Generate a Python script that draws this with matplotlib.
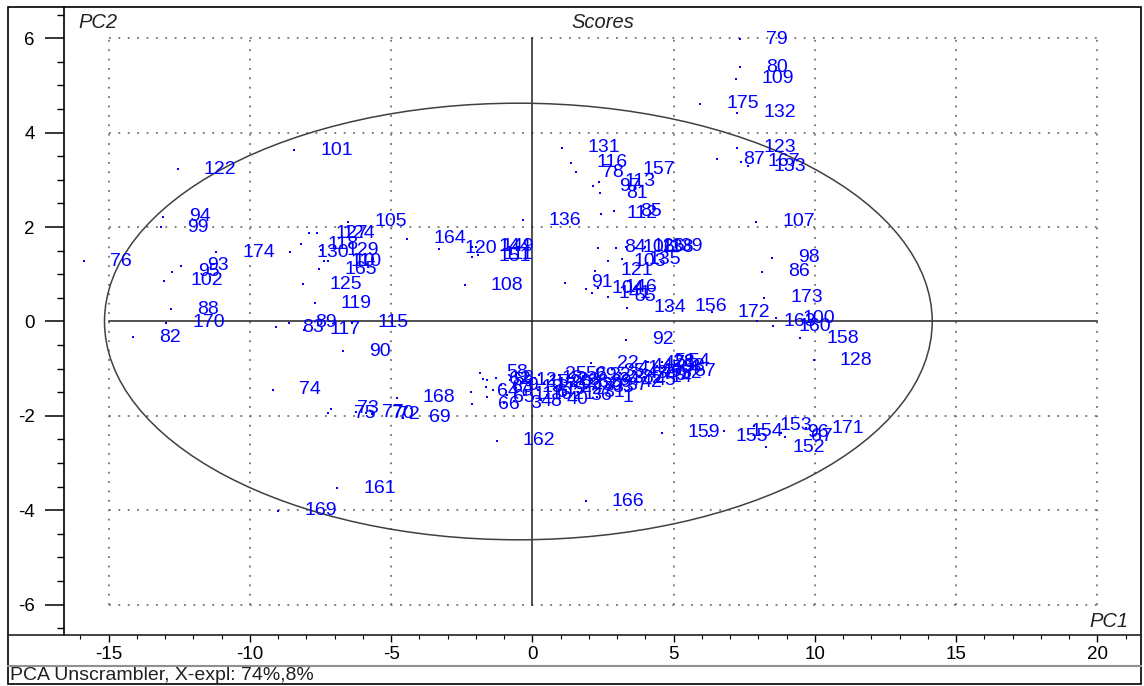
import matplotlib.pyplot as plt
from matplotlib.patches import Ellipse, Rectangle
from matplotlib.lines import Line2D
from matplotlib.ticker import MultipleLocator

plt.rcParams['font.family'] = ['Liberation Sans', 'DejaVu Sans']
plt.rcParams['axes.unicode_minus'] = False

# ---- PCA scores (PC1, PC2) per sample ----
samples = [
    79, 80, 109, 175, 132, 123, 87, 167, 133,
    131, 116, 78, 157, 97, 113, 81, 112, 85, 136,
    84, 106, 126, 138, 139, 103, 135, 121, 91, 104, 141, 146, 55, 134, 156,
    101, 122, 94, 99, 76, 174, 93, 95, 102, 88, 170, 82,
    105, 127, 124, 118, 130, 129, 110, 10, 165, 125, 119, 89, 83, 117, 115, 90,
    164, 120, 144, 149, 151, 111, 108,
    74, 73, 75, 77, 70, 72, 168, 69, 161, 169, 162, 166,
    107, 98, 86, 173, 172, 163, 100, 160, 158, 128,
    159, 155, 154, 153, 152, 96, 67, 171,
    58, 64, 66, 62, 63, 65, 3, 48, 40, 6, 36, 1, 25, 56, 39, 22, 2, 14, 4, 28, 92,
    5, 7, 8, 9, 11, 12, 13, 15, 16, 17, 18, 19, 20, 21, 23, 24, 26, 27, 29, 30, 31,
    32, 33, 34, 35, 37, 38, 41, 42, 43, 44, 45, 46, 47, 49, 50, 51, 52, 53, 54, 57,
]
pc1 = [
    7.36, 7.36, 7.19, 5.93, 7.24, 7.25, 6.53, 7.39, 7.62,
    1.04, 1.36, 1.54, 2.96, 2.14, 2.35, 2.39, 2.42, 2.88, -0.34,
    2.32, 2.96, 3.31, 3.66, 3.98, 2.67, 3.17, 2.21, 1.15, 1.89, 2.11, 2.32, 2.67, 3.35, 4.80,
    -8.44, -12.55, -13.08, -13.15, -15.88, -11.20, -12.44, -12.76, -13.04, -12.80, -12.97, -14.14,
    -6.53, -7.91, -7.63, -8.19, -8.58, -7.49, -7.38, -7.24, -7.56, -8.12, -7.70, -8.62, -9.08, -8.09, -6.39, -6.71,
    -4.44, -3.31, -2.14, -2.00, -2.14, -1.93, -2.39,
    -9.19, -7.13, -7.24, -6.25, -5.89, -5.68, -4.80, -4.58, -6.92, -9.00, -1.26, 1.89,
    7.92, 8.48, 8.13, 8.20, 6.35, 7.95, 8.62, 8.51, 9.47, 9.96,
    4.58, 6.25, 6.78, 7.84, 8.27, 8.81, 8.95, 9.68,
    -1.86, -2.18, -2.14, -1.75, -1.65, -1.61, -1.01, -0.65, 0.30, -0.05, 1.12, 2.28, 0.23, 0.94, 1.82, 2.07, 3.31, 3.95, 4.58, 4.05, 3.31,
    -1.60, -1.40, -1.30, -1.10, -0.90, -0.80, -0.60, -0.40, -0.30, -0.10, 0.10, 0.20, 0.40, 0.50, 0.70, 0.80, 1.00, 1.20, 1.30, 1.50, 1.60,
    1.80, 1.90, 2.10, 2.30, 2.40, 2.60, 2.80, 2.90, 3.10, 3.30, 3.40, 3.60, 3.70, 3.80, 4.00, 4.10, 4.30, 4.40, 4.60, 4.80,
]
pc2 = [
    5.98, 5.39, 5.14, 4.61, 4.42, 3.68, 3.44, 3.38, 3.29,
    3.68, 3.36, 3.16, 3.21, 2.87, 2.96, 2.72, 2.28, 2.34, 2.15,
    1.56, 1.56, 1.58, 1.56, 1.58, 1.28, 1.32, 1.07, 0.82, 0.69, 0.60, 0.71, 0.52, 0.29, 0.31,
    3.63, 3.23, 2.22, 2.00, 1.28, 1.47, 1.18, 1.05, 0.86, 0.26, -0.03, -0.33,
    2.11, 1.87, 1.87, 1.64, 1.47, 1.51, 1.28, 1.28, 1.11, 0.79, 0.39, -0.03, -0.12, -0.18, -0.03, -0.63,
    1.75, 1.54, 1.58, 1.58, 1.37, 1.41, 0.77,
    -1.45, -1.85, -1.94, -1.92, -1.94, -1.96, -1.62, -2.04, -3.53, -4.01, -2.53, -3.81,
    2.11, 1.35, 1.05, 0.50, 0.20, 0.01, 0.07, -0.10, -0.35, -0.82,
    -2.36, -2.43, -2.32, -2.21, -2.66, -2.36, -2.44, -2.26,
    -1.09, -1.49, -1.75, -1.22, -1.39, -1.60, -1.73, -1.69, -1.66, -1.51, -1.56, -1.60, -1.13, -1.13, -1.30, -0.88, -1.20, -1.18, -0.99, -0.86, -0.39,
    -1.25, -1.45, -1.20, -1.35, -1.55, -1.25, -1.40, -1.30, -1.55, -1.35, -1.20, -1.45, -1.30, -1.55, -1.25, -1.40, -1.30, -1.45, -1.15, -1.35, -1.50,
    -1.15, -1.40, -1.25, -1.05, -1.35, -1.20, -1.00, -1.30, -1.10, -0.95, -1.25, -1.05, -0.90, -1.15, -1.00, -0.85, -1.10, -0.95, -0.85, -1.05,
]

# Hotelling T2 ellipse
ell_center = (-0.5, 0.0)
ell_width = 29.3
ell_height = 9.25

W, H = 1144, 686
fig = plt.figure(figsize=(W / 100, H / 100), dpi=100, facecolor='white')
ax = fig.add_axes([64 / W, 1 - 635 / H, (1141 - 64) / W, (635 - 7) / H])
ax.set_xlim(-16.584, 21.54)
ax.set_ylim(-6.642, 6.663)

# dotted grid box -15..20, -6..6
grid_kw = dict(color='#707070', lw=1.3, linestyle=(0, (1, 4.2)), zorder=1)
for gx in [-15, -10, -5, 5, 10, 15, 20]:
    ax.plot([gx, gx], [-6, 6], **grid_kw)
for gy in [-6, -4, -2, 2, 4, 6]:
    ax.plot([-15, 20], [gy, gy], **grid_kw)
ax.plot([0, 0], [-6, 6], color='#202020', lw=1.1, zorder=2)
ax.plot([-15, 20], [0, 0], color='#202020', lw=1.1, zorder=2)

ax.add_patch(Ellipse(ell_center, ell_width, ell_height, fill=False,
                     edgecolor='#404040', lw=1.1, zorder=2))

ax.plot(pc1, pc2, 's', color='blue', markersize=2.0, markeredgewidth=0, zorder=3)
for s, x, y in zip(samples, pc1, pc2):
    ax.annotate(str(s), (x, y), xytext=(26, 0), textcoords='offset pixels',
                ha='left', va='center', color='blue', fontsize=14, zorder=4)

# axes / ticks
for side in ['top', 'right', 'bottom']:
    ax.spines[side].set_visible(False)
ax.spines['left'].set_linewidth(1.2)
ax.xaxis.set_major_locator(MultipleLocator(5))
ax.xaxis.set_minor_locator(MultipleLocator(1))
ax.yaxis.set_major_locator(MultipleLocator(2))
ax.yaxis.set_minor_locator(MultipleLocator(0.5))
ax.tick_params(axis='y', which='major', length=14, width=1.1, pad=7, labelsize=13.5)
ax.tick_params(axis='y', which='minor', length=5, width=1.0)
ax.tick_params(axis='x', which='major', length=5, width=1.0, pad=3, labelsize=13.5)
ax.tick_params(axis='x', which='minor', length=3, width=0.8)

ax.text(0.013, 0.976, 'PC2', transform=ax.transAxes, style='italic',
        fontsize=14.5, color='#222222', va='center', ha='left')
ax.text(0.5, 0.976, 'Scores', transform=ax.transAxes, style='italic',
        fontsize=14.5, color='#222222', va='center', ha='center')
ax.text(0.952, 0.022, 'PC1', transform=ax.transAxes, style='italic',
        fontsize=14.5, color='#222222', va='center', ha='left')

# outer frame, x axis line and status bar
fig.add_artist(Line2D([8 / W, 1141 / W], [1 - 635 / H] * 2, color='#202020', lw=1.2))
fig.add_artist(Line2D([8 / W, 1141 / W], [1 - 666 / H] * 2, color='#909090', lw=1.5))
fig.add_artist(Rectangle((8 / W, 1 - 684 / H), (1141 - 8) / W, (684 - 7) / H,
                         fill=False, edgecolor='black', lw=1.2))
fig.text(10 / W, 1 - 676 / H, 'PCA Unscrambler, X-expl: 74%,8%', fontsize=14,
         color='#202020', va='center', ha='left')

fig.savefig('out.png', dpi=100)
